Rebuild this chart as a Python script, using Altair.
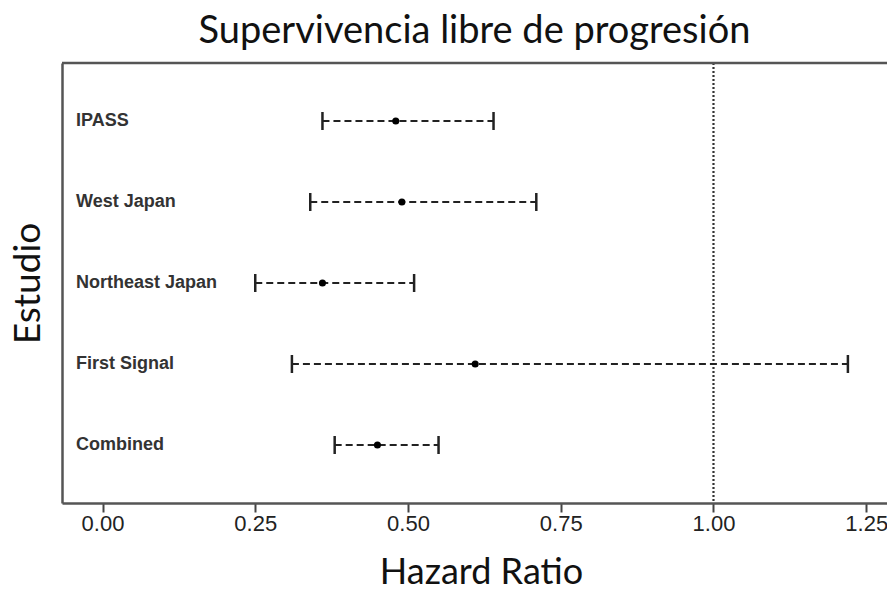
import altair as alt
import pandas as pd

# Progression-free survival hazard ratios by study
studies = ["IPASS", "West Japan", "Northeast Japan", "First Signal", "Combined"]
hr = [0.48, 0.49, 0.36, 0.61, 0.45]
ci_low = [0.36, 0.34, 0.25, 0.31, 0.38]
ci_high = [0.64, 0.71, 0.51, 1.22, 0.55]
x_ticks = [0.0, 0.25, 0.5, 0.75, 1.0, 1.25]
reference = [1.0]

df = pd.DataFrame({"Estudio": studies, "HR": hr, "Low": ci_low, "High": ci_high})
ref_df = pd.DataFrame({"ref": reference})

W, H = 825, 440

x_scale = alt.Scale(domain=[-0.0663, 1.284], nice=False, zero=False)
y_scale = alt.Scale(type="point", domain=studies, padding=0.716)

x_axis = alt.Axis(
    values=x_ticks, format=".2f", grid=False,
    domainColor="#555", domainWidth=2.5,
    tickColor="#444", tickWidth=2, tickSize=9,
    labelFont="Liberation Sans", labelFontSize=22, labelColor="#222",
    labelPadding=1, labelFlush=False, labelOverlap=False, labelBound=False,
    title="Hazard Ratio", titleFont="Lato", titleFontSize=36,
    titleFontWeight="normal", titleColor="#111", titlePadding=21,
    titleX=419,
)
y_axis = alt.Axis(
    labels=False, ticks=False, grid=False,
    domainColor="#555", domainWidth=2.5,
    title="Estudio", titleFont="Lato", titleFontSize=37,
    titleFontWeight="normal", titleColor="#111", titlePadding=15,
)

base = alt.Chart(df)

bars = base.mark_rule(color="#222", strokeWidth=2, strokeDash=[7, 4]).encode(
    x=alt.X("Low:Q", scale=x_scale, axis=x_axis),
    x2="High:Q",
    y=alt.Y("Estudio:N", scale=y_scale, axis=y_axis, sort=studies),
)

cap_style = dict(color="#222", size=18, thickness=2.5, orient="vertical", opacity=1)
cap_low = base.mark_tick(**cap_style).encode(
    x=alt.X("Low:Q", scale=x_scale),
    y=alt.Y("Estudio:N", scale=y_scale, sort=studies),
)
cap_high = base.mark_tick(**cap_style).encode(
    x=alt.X("High:Q", scale=x_scale),
    y=alt.Y("Estudio:N", scale=y_scale, sort=studies),
)

points = base.mark_circle(color="#000", size=50, opacity=1).encode(
    x=alt.X("HR:Q", scale=x_scale),
    y=alt.Y("Estudio:N", scale=y_scale, sort=studies),
)

labels = base.mark_text(
    align="left", baseline="middle", font="Liberation Sans", fontSize=18,
    fontWeight="bold", color="#333",
).encode(
    x=alt.value(14),
    y=alt.Y("Estudio:N", scale=y_scale, sort=studies),
    text="Estudio:N",
)

ref_line = alt.Chart(ref_df).mark_rule(
    color="#333", strokeWidth=2.2, strokeDash=[2, 2]
).encode(
    x=alt.X("ref:Q", scale=x_scale),
    y=alt.value(0),
    y2=alt.value(H),
)

top_border = alt.Chart(ref_df).mark_rule(color="#555", strokeWidth=2.5).encode(
    x=alt.value(0), x2=alt.value(W), y=alt.value(0)
)

chart = alt.layer(
    ref_line, bars, cap_low, cap_high, points, labels, top_border
).properties(
    width=W,
    height=H,
    title=alt.TitleParams(
        "Supervivencia libre de progresión",
        font="Lato", fontSize=38, fontWeight="normal", color="#111",
        anchor="middle", offset=11,
    ),
    autosize=alt.AutoSizeParams(type="none"),
    padding={"left": 62, "top": 63, "right": 0, "bottom": 91},
).configure_view(stroke=None).configure(background="white")

chart.save("out.html", embed_options={"renderer": "svg", "actions": False})
